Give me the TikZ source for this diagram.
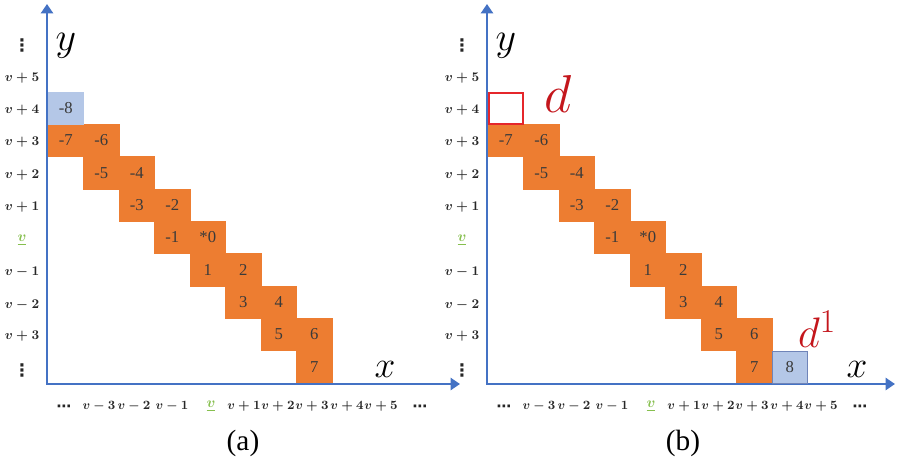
\RequirePackage{fix-cm}
\documentclass[tikz,border=0pt]{standalone}
\usepackage{fontspec}
\newfontfamily\timesf{Liberation Serif}
\newfontfamily\djv{DejaVu Sans}
\usetikzlibrary{arrows.meta}
\definecolor{cellorange}{HTML}{ED7D31}
\definecolor{cellblue}{HTML}{B4C7E7}
\definecolor{cellborder}{HTML}{6F84B8}
\definecolor{axisblue}{HTML}{4472C4}
\definecolor{vgreen}{HTML}{86BF4E}
\definecolor{dred}{HTML}{C4161C}
\definecolor{boxred}{HTML}{E5262B}
\definecolor{numgray}{HTML}{3A3A3A}
\definecolor{labgray}{HTML}{262626}
\tikzset{
  cellbox/.style={rectangle, inner sep=0pt, minimum width=26.6pt, minimum height=24.25pt,
    fill=cellorange, draw=cellorange, line width=0.3pt, text=numgray,
    font=\timesf\fontsize{12.5}{14}\selectfont},
  bluecell/.style={cellbox, fill=cellblue, draw=cellblue},
  ylab/.style={inner sep=0pt, text=labgray, font=\fontsize{10}{12}\selectfont\boldmath},
  xlab/.style={inner sep=0pt, text=labgray, font=\fontsize{9.5}{11}\selectfont\boldmath},
  vdotlab/.style={inner sep=0pt, text=labgray, font=\djv\bfseries\fontsize{13}{14}\selectfont},
  hdotlab/.style={inner sep=0pt, text=labgray, font=\djv\bfseries\fontsize{11}{12}\selectfont},
  axisline/.style={draw=axisblue, line width=2.2pt, line cap=rect},
  axisarrow/.style={axisline, -{Triangle[length=7pt,width=9pt]}},
  bigmath/.style={inner sep=0pt, font=\fontsize{30}{32}\selectfont},
  caption/.style={inner sep=0pt, font=\timesf\fontsize{22}{24}\selectfont},
}
\begin{document}
\begin{tikzpicture}[x=0.75pt,y=-0.75pt]
\fill[white] (0,0) rectangle (900,465);
\useasboundingbox (0,0) rectangle (900,465);
\foreach \p/\off/\xt/\xl in {a/0/460/385, b/440/455/417} {
  \begin{scope}[shift={(\off,0)}]
    % cells
    \foreach \c/\r/\t [count=\i] in {0/1/-7, 1/1/-6, 1/2/-5, 2/2/-4, 2/3/-3, 3/3/-2, 3/4/-1, 4/4/*0,
                                     4/5/1, 5/5/2, 5/6/3, 6/6/4, 6/7/5, 7/7/6, 7/8/7} {
      \node[cellbox] (\p-n\i) at ({65.75+35.5*\c},{108.17+32.33*\r}) {\t};
    }
    % axes
    \coordinate (\p-o) at (47,384);
    \coordinate (\p-ytip) at (47,4);
    \coordinate (\p-xtip) at (\xt,384);
    \draw[axisarrow] (\p-o) -- (\p-ytip);
    \draw[axisarrow] (\p-o) -- (\p-xtip);
    % y labels
    \node[vdotlab] (\p-yd1) at (22,45) {⋮};
    \foreach \yy/\t [count=\i] in {78/{$v+5$}, 110/{$v+4$}, 142/{$v+3$}, 175/{$v+2$}, 207/{$v+1$},
                                   272/{$v-1$}, 305/{$v-2$}, 336/{$v+3$}} {
      \node[ylab] (\p-yl\i) at (22,\yy) {\t};
    }
    \node[ylab, text=vgreen, font=\fontsize{11}{12}\selectfont\boldmath] (\p-yv) at (22,240) {$\underline{v}$};
    \node[vdotlab] (\p-yd2) at (22,370) {⋮};
    % x labels
    \node[hdotlab] (\p-xd1) at (64,408) {⋯};
    \foreach \xx/\t [count=\i] in {99/{$v-3$}, 134/{$v-2$}, 172/{$v-1$},
                                   244/{$v+1$}, 278/{$v+2$}, 312/{$v+3$}, 347/{$v+4$}, 381/{$v+5$}} {
      \node[xlab] (\p-xl\i) at (\xx,406) {\t};
    }
    \node[hdotlab] (\p-xd2) at (420,408) {⋯};
    \node[xlab, text=vgreen, font=\fontsize{11}{12}\selectfont\boldmath] (\p-xv) at (211,406) {$\underline{v}$};
    % axis names
    \node[bigmath] (\p-y) at (66,46) {$y$};
    \node[bigmath, font=\fontsize{28}{30}\selectfont] (\p-x) at (\xl,369) {$x$};
  \end{scope}
}
% panel (a) specific
\node[bluecell] (a-n0) at (65.75,108.17) {-8};
% panel (b) specific
\node[rectangle, inner sep=0pt, minimum width=25.5pt, minimum height=23.2pt, draw=boxred, line width=1.6pt]
  (b-d0) at (505.75,108.17) {};
\node[bluecell, draw=cellborder, line width=0.7pt] (b-n16) at (789.75,367.5) {8};
\node[inner sep=0pt, text=dred, font=\fontsize{40}{42}\selectfont] (b-dlab) at (558,94) {$d$};
\node[inner sep=0pt, text=dred, font=\fontsize{32}{34}\selectfont] (b-d1lab) at (817,329)
  {$d^{\mbox{\fontsize{25}{27}\selectfont 1}}$};
% captions
\node[caption] (cap-a) at (243,443) {(a)};
\node[caption] (cap-b) at (683,443) {(b)};
\end{tikzpicture}
\end{document}
